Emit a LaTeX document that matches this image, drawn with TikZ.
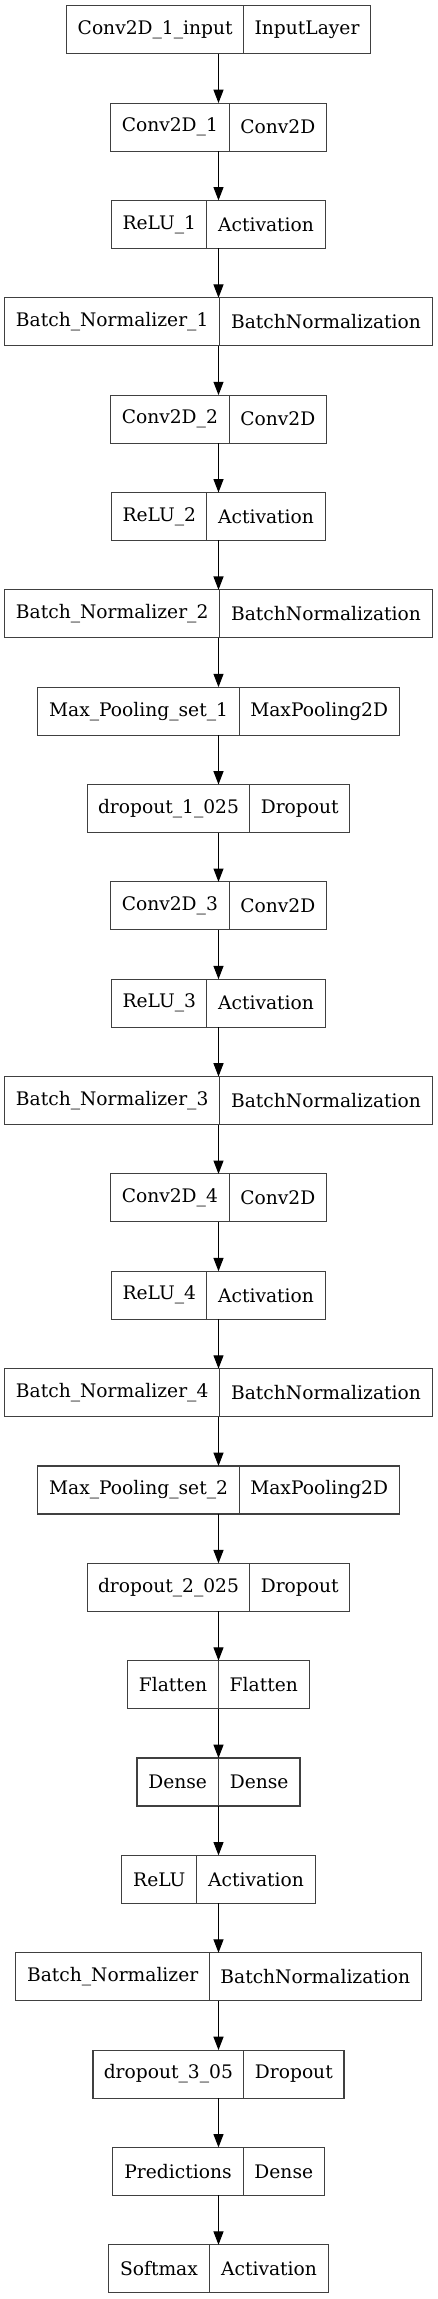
\documentclass[tikz,border=0pt]{standalone}
\usepackage{fontspec}
\setmainfont{DejaVu Serif}
\usepackage{tikz}
\usetikzlibrary{positioning,arrows.meta}

\begin{document}
\begin{tikzpicture}[
    x=0.75pt, y=-0.75pt,
    font=\fontsize{14}{16}\selectfont,
    rec/.style={minimum width=#1*0.75pt, minimum height=36pt, inner sep=0pt, outer sep=0pt},
    cell/.style={rectangle, draw=black!75, line width=0.8pt, minimum width=#1*0.75pt, minimum height=36pt, inner sep=0pt, outer sep=0pt, align=center, text=black},
    arr/.style={-{Triangle[length=10pt,width=7.5pt]}, line width=0.8pt, black}
]
\useasboundingbox (0,0) rectangle (437,2299);
% ============================================================
% LAYERS — one record per layer: name | type
% ============================================================
\node[rec=303.6] (inp) at (218.5,29.7) {};
\node[cell=177,   anchor=west] (inp-n) at (inp.west) {Conv2D\_1\_input};
\node[cell=126.6, anchor=east] (inp-t) at (inp.east) {InputLayer};

\node[rec=216] (c1) at (218.5,127.05) {};
\node[cell=118.7, anchor=west] (c1-n) at (c1.west) {Conv2D\_1};
\node[cell=97.3,  anchor=east] (c1-t) at (c1.east) {Conv2D};

\node[rec=213.3] (r1) at (218.5,224.4) {};
\node[cell=95,    anchor=west] (r1-n) at (r1.west) {ReLU\_1};
\node[cell=118.3, anchor=east] (r1-t) at (r1.east) {Activation};

\node[rec=427.6] (b1) at (218.5,321.75) {};
\node[cell=215,   anchor=west] (b1-n) at (b1.west) {Batch\_Normalizer\_1};
\node[cell=212.6, anchor=east] (b1-t) at (b1.east) {BatchNormalization};

\node[rec=216] (c2) at (218.5,419.1) {};
\node[cell=118.7, anchor=west] (c2-n) at (c2.west) {Conv2D\_2};
\node[cell=97.3,  anchor=east] (c2-t) at (c2.east) {Conv2D};

\node[rec=213.3] (r2) at (218.5,516.45) {};
\node[cell=95,    anchor=west] (r2-n) at (r2.west) {ReLU\_2};
\node[cell=118.3, anchor=east] (r2-t) at (r2.east) {Activation};

\node[rec=427.6] (b2) at (218.5,613.8) {};
\node[cell=215,   anchor=west] (b2-n) at (b2.west) {Batch\_Normalizer\_2};
\node[cell=212.6, anchor=east] (b2-t) at (b2.east) {BatchNormalization};

\node[rec=361.3] (mp1) at (218.5,711.15) {};
\node[cell=201.3, anchor=west] (mp1-n) at (mp1.west) {Max\_Pooling\_set\_1};
\node[cell=160,   anchor=east] (mp1-t) at (mp1.east) {MaxPooling2D};

\node[rec=262.4] (d1) at (218.5,808.5) {};
\node[cell=162.4, anchor=west] (d1-n) at (d1.west) {dropout\_1\_025};
\node[cell=100,   anchor=east] (d1-t) at (d1.east) {Dropout};

\node[rec=216] (c3) at (218.5,905.85) {};
\node[cell=118.7, anchor=west] (c3-n) at (c3.west) {Conv2D\_3};
\node[cell=97.3,  anchor=east] (c3-t) at (c3.east) {Conv2D};

\node[rec=213.3] (r3) at (218.5,1003.2) {};
\node[cell=95,    anchor=west] (r3-n) at (r3.west) {ReLU\_3};
\node[cell=118.3, anchor=east] (r3-t) at (r3.east) {Activation};

\node[rec=427.6] (b3) at (218.5,1100.55) {};
\node[cell=215,   anchor=west] (b3-n) at (b3.west) {Batch\_Normalizer\_3};
\node[cell=212.6, anchor=east] (b3-t) at (b3.east) {BatchNormalization};

\node[rec=216] (c4) at (218.5,1197.9) {};
\node[cell=118.7, anchor=west] (c4-n) at (c4.west) {Conv2D\_4};
\node[cell=97.3,  anchor=east] (c4-t) at (c4.east) {Conv2D};

\node[rec=213.3] (r4) at (218.5,1295.25) {};
\node[cell=95,    anchor=west] (r4-n) at (r4.west) {ReLU\_4};
\node[cell=118.3, anchor=east] (r4-t) at (r4.east) {Activation};

\node[rec=427.6] (b4) at (218.5,1392.6) {};
\node[cell=215,   anchor=west] (b4-n) at (b4.west) {Batch\_Normalizer\_4};
\node[cell=212.6, anchor=east] (b4-t) at (b4.east) {BatchNormalization};

\node[rec=361.3] (mp2) at (218.5,1489.95) {};
\node[cell=201.3, anchor=west] (mp2-n) at (mp2.west) {Max\_Pooling\_set\_2};
\node[cell=160,   anchor=east] (mp2-t) at (mp2.east) {MaxPooling2D};

\node[rec=262.4] (d2) at (218.5,1587.3) {};
\node[cell=162.4, anchor=west] (d2-n) at (d2.west) {dropout\_2\_025};
\node[cell=100,   anchor=east] (d2-t) at (d2.east) {Dropout};

\node[rec=181.6] (fl) at (218.5,1684.65) {};
\node[cell=90.6, anchor=west] (fl-n) at (fl.west) {Flatten};
\node[cell=91,   anchor=east] (fl-t) at (fl.east) {Flatten};

\node[rec=163] (dn) at (218.5,1782) {};
\node[cell=81.3, anchor=west] (dn-n) at (dn.west) {Dense};
\node[cell=81.7, anchor=east] (dn-t) at (dn.east) {Dense};

\node[rec=193.3] (rl) at (218.5,1879.35) {};
\node[cell=75,    anchor=west] (rl-n) at (rl.west) {ReLU};
\node[cell=118.3, anchor=east] (rl-t) at (rl.east) {Activation};

\node[rec=405.3] (bn) at (218.5,1976.7) {};
\node[cell=193.6, anchor=west] (bn-n) at (bn.west) {Batch\_Normalizer};
\node[cell=211.7, anchor=east] (bn-t) at (bn.east) {BatchNormalization};

\node[rec=251] (d3) at (218.5,2074.05) {};
\node[cell=150.7, anchor=west] (d3-n) at (d3.west) {dropout\_3\_05};
\node[cell=100.3, anchor=east] (d3-t) at (d3.east) {Dropout};

\node[rec=211.6] (pr) at (218.5,2171.4) {};
\node[cell=130.6, anchor=west] (pr-n) at (pr.west) {Predictions};
\node[cell=81,    anchor=east] (pr-t) at (pr.east) {Dense};

\node[rec=220] (sm) at (218.5,2268.75) {};
\node[cell=101, anchor=west] (sm-n) at (sm.west) {Softmax};
\node[cell=119, anchor=east] (sm-t) at (sm.east) {Activation};

% ============================================================
% CONNECTORS
% ============================================================
\draw[arr] (inp) -- (c1);
\draw[arr] (c1) -- (r1);
\draw[arr] (r1) -- (b1);
\draw[arr] (b1) -- (c2);
\draw[arr] (c2) -- (r2);
\draw[arr] (r2) -- (b2);
\draw[arr] (b2) -- (mp1);
\draw[arr] (mp1) -- (d1);
\draw[arr] (d1) -- (c3);
\draw[arr] (c3) -- (r3);
\draw[arr] (r3) -- (b3);
\draw[arr] (b3) -- (c4);
\draw[arr] (c4) -- (r4);
\draw[arr] (r4) -- (b4);
\draw[arr] (b4) -- (mp2);
\draw[arr] (mp2) -- (d2);
\draw[arr] (d2) -- (fl);
\draw[arr] (fl) -- (dn);
\draw[arr] (dn) -- (rl);
\draw[arr] (rl) -- (bn);
\draw[arr] (bn) -- (d3);
\draw[arr] (d3) -- (pr);
\draw[arr] (pr) -- (sm);

\end{tikzpicture}
\end{document}
